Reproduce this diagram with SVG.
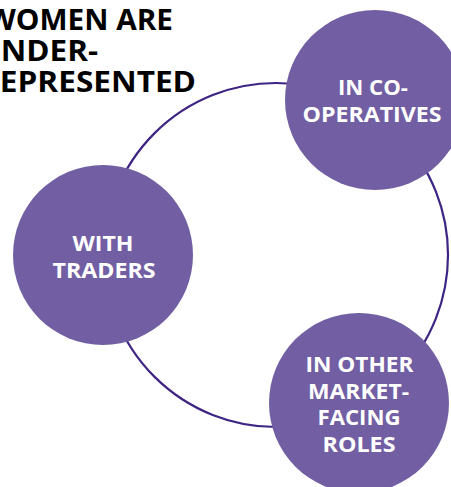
<svg xmlns="http://www.w3.org/2000/svg" width="451" height="487" viewBox="0 0 451 487">
  <style>
    .title { font-family: "Open Sans", "Liberation Sans", sans-serif; font-weight: bold; font-size: 28px; fill: #000000; }
    .node circle { fill: #725fa3; }
    .node text { font-family: "Open Sans", "Liberation Sans", sans-serif; font-weight: bold; font-size: 20.5px; fill: #ffffff; text-anchor: middle; }
    .ring { fill: none; stroke: #3e2483; stroke-width: 2.2; }
  </style>
  <rect width="451" height="487" fill="#ffffff"/>
  <g id="title">
    <text class="title" x="-13" y="30" textLength="186" lengthAdjust="spacingAndGlyphs">WOMEN ARE</text>
    <text class="title" x="-23" y="61" textLength="121" lengthAdjust="spacingAndGlyphs">UNDER-</text>
    <text class="title" x="-21" y="92" textLength="217" lengthAdjust="spacingAndGlyphs">REPRESENTED</text>
  </g>
  <g id="connectors">
    <circle class="ring" cx="276" cy="255" r="172"/>
  </g>
  <g id="node-traders" class="node">
    <circle cx="103" cy="255" r="90"/>
    <text x="103" y="251" textLength="61" lengthAdjust="spacingAndGlyphs">WITH</text>
    <text x="104" y="278" textLength="103" lengthAdjust="spacingAndGlyphs">TRADERS</text>
  </g>
  <g id="node-cooperatives" class="node">
    <circle cx="375" cy="100" r="90"/>
    <text x="373" y="95" textLength="70" lengthAdjust="spacingAndGlyphs">IN CO-</text>
    <text x="372" y="122" textLength="139" lengthAdjust="spacingAndGlyphs">OPERATIVES</text>
  </g>
  <g id="node-market" class="node">
    <circle cx="359" cy="403" r="90"/>
    <text x="359.5" y="372" textLength="108" lengthAdjust="spacingAndGlyphs">IN OTHER</text>
    <text x="358.5" y="399" textLength="101" lengthAdjust="spacingAndGlyphs">MARKET-</text>
    <text x="359" y="425" textLength="83" lengthAdjust="spacingAndGlyphs">FACING</text>
    <text x="359" y="452" textLength="73" lengthAdjust="spacingAndGlyphs">ROLES</text>
  </g>
</svg>
